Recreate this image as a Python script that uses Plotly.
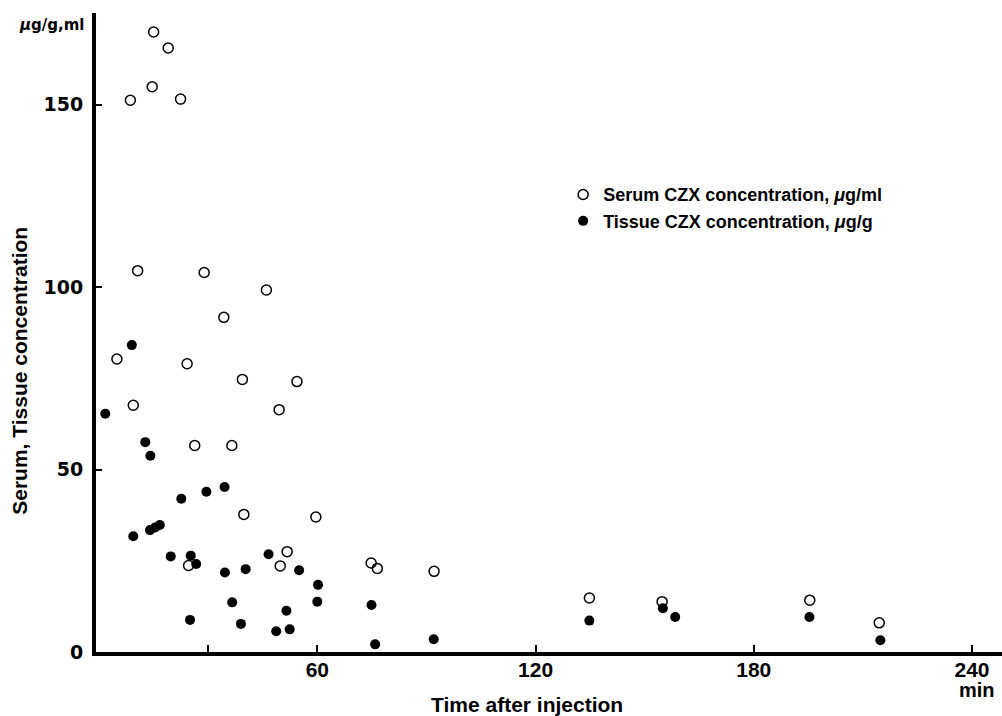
import plotly.graph_objects as go

# Serum CZX concentration (open circles), minutes vs ug/ml
serum_t = [15.0, 19.0, 14.6, 8.6, 22.4, 10.6, 28.9, 46.0, 34.3, 4.9, 24.2, 39.4, 54.4,
           9.4, 49.5, 26.3, 36.5, 39.8, 59.6, 24.6, 51.7, 49.8, 74.8, 76.5, 92.1,
           134.8, 154.8, 195.4, 214.5]
serum_c = [169.9, 165.5, 154.9, 151.2, 151.5, 104.5, 104.0, 99.2, 91.7, 80.3, 79.0, 74.7, 74.1,
           67.6, 66.4, 56.6, 56.6, 37.7, 37.0, 23.7, 27.5, 23.6, 24.4, 22.9, 22.1,
           14.8, 13.8, 14.2, 8.0]

# Tissue CZX concentration (filled circles), minutes vs ug/g
tissue_t = [9.0, 1.7, 12.7, 14.1, 9.4, 14.0, 15.4, 16.7, 22.6, 29.5, 34.5, 19.7, 25.2,
            26.7, 34.6, 40.3, 46.6, 55.0, 60.2, 60.0, 36.6, 51.5, 25.0, 39.0, 48.7,
            52.4, 74.9, 75.9, 92.0, 134.8, 155.0, 158.4, 195.3, 214.8]
tissue_c = [84.1, 65.3, 57.5, 53.8, 31.7, 33.4, 34.1, 34.8, 42.0, 43.9, 45.2, 26.2, 26.4,
            24.1, 21.8, 22.7, 26.8, 22.4, 18.4, 13.8, 13.6, 11.3, 8.8, 7.7, 5.7,
            6.2, 12.9, 2.1, 3.5, 8.6, 12.0, 9.6, 9.6, 3.2]

x_tickvals = [30, 60, 120, 180, 240]
x_ticktext = ["", "60", "120", "180", "240"]
y_tickvals = [0, 50, 100, 150]
y_ticktext = ["0", "50", "100", "150"]

serum_name = "Serum CZX concentration, <i>μ</i>g/ml"
tissue_name = "Tissue CZX concentration, <i>μ</i>g/g"

BOLD = "Liberation Sans"

fig = go.Figure()
fig.add_trace(go.Scatter(
    x=serum_t, y=serum_c, mode="markers", name=serum_name, legendgroup="s",
    marker=dict(symbol="circle-open", size=10, color="black", line=dict(width=1.5, color="black")),
    cliponaxis=False,
))
fig.add_trace(go.Scatter(
    x=tissue_t, y=tissue_c, mode="markers", name=tissue_name, legendgroup="t",
    marker=dict(symbol="circle", size=10, color="black"),
    cliponaxis=False,
))

fig.update_layout(
    width=1002, height=716,
    margin=dict(l=96, r=0, t=13, b=64, autoexpand=False),
    paper_bgcolor="white", plot_bgcolor="white",
    showlegend=True,
    legend=dict(
        x=0.5156, y=0.7445, xanchor="left", yanchor="top",
        font=dict(family=BOLD, size=18, color="black", weight="bold"),
        tracegroupgap=0, itemwidth=30, bgcolor="rgba(0,0,0,0)",
    ),
    xaxis=dict(
        range=[-0.85, 248.25], showgrid=False, zeroline=False, automargin=False,
        showline=True, linecolor="black", linewidth=4,
        ticks="inside", ticklen=7, tickwidth=2, tickcolor="black",
        tickvals=x_tickvals, ticktext=x_ticktext,
        tickfont=dict(family=BOLD, size=21, color="black", weight="bold"),
        ticklabelstandoff=-4,
    ),
    yaxis=dict(
        range=[0, 175.1], showgrid=False, zeroline=False, automargin=False,
        showline=True, linecolor="black", linewidth=4,
        ticks="inside", ticklen=6, tickwidth=2, tickcolor="black",
        tickvals=y_tickvals, ticktext=y_ticktext,
        tickfont=dict(family="DejaVu Sans", size=19, color="black", weight="bold"),
        ticklabelstandoff=5,
    ),
    annotations=[
        dict(text="Serum, Tissue concentration", xref="paper", yref="paper",
             x=-0.084, y=0.44, xanchor="center", yanchor="middle", textangle=-90,
             showarrow=False,
             font=dict(family=BOLD, size=21, color="black", weight="bold")),
        dict(text="<i>μ</i>g/g,ml", xref="paper", yref="paper", x=-0.011, y=0.981,
             xanchor="right", yanchor="middle", showarrow=False,
             font=dict(family="DejaVu Sans", size=15, color="black", weight="bold")),
        dict(text="min", xref="paper", yref="paper", x=0.972, y=-0.06,
             xanchor="center", yanchor="middle", showarrow=False,
             font=dict(family=BOLD, size=20, color="black", weight="bold")),
        dict(text="Time after injection", xref="paper", yref="paper", x=0.476, y=-0.0815,
             xanchor="center", yanchor="middle", showarrow=False,
             font=dict(family=BOLD, size=21, color="black", weight="bold")),
    ],
)

fig.write_html("out.html", config={"displayModeBar": False},
               post_script="document.body.style.margin='0px';")
